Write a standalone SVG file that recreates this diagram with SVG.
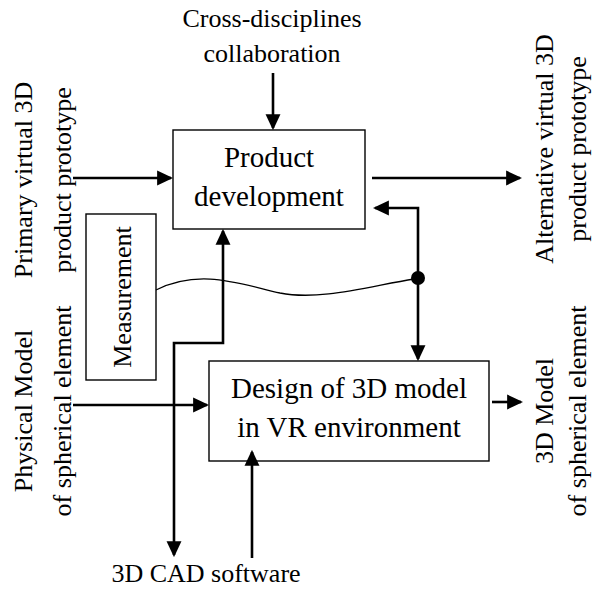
<svg xmlns="http://www.w3.org/2000/svg" width="592" height="589" viewBox="0 0 592 589">
<defs>
<marker id="ah" markerUnits="userSpaceOnUse" markerWidth="16" markerHeight="16" viewBox="0 0 15 14" refX="13" refY="7" orient="auto-start-reverse">
<path d="M0,0 L15,7 L0,14 z" fill="#000"/>
</marker>
</defs>
<rect width="592" height="589" fill="#fff"/>

<g id="product-development">
<rect x="173" y="130" width="192" height="99" fill="#fff" stroke="#000" stroke-width="1.4"/>
<text x="269" y="167" font-size="29" text-anchor="middle" font-family="Liberation Serif">Product</text>
<text x="269" y="206" font-size="29" text-anchor="middle" font-family="Liberation Serif">development</text>
</g>

<g id="design-3d-model">
<rect x="209" y="361" width="280" height="100" fill="#fff" stroke="#000" stroke-width="1.4"/>
<text x="349" y="398" font-size="29" text-anchor="middle" font-family="Liberation Serif">Design of 3D model</text>
<text x="349" y="437" font-size="29" text-anchor="middle" font-family="Liberation Serif">in VR environment</text>
</g>

<g id="measurement">
<rect x="86" y="214" width="70" height="166" fill="#fff" stroke="#000" stroke-width="1.4"/>
<text transform="translate(131,297) rotate(-90)" font-size="26" text-anchor="middle" font-family="Liberation Serif">Measurement</text>
</g>

<g id="label-cross">
<text x="272" y="27" font-size="26" text-anchor="middle" font-family="Liberation Serif">Cross-disciplines</text>
<text x="272" y="62" font-size="26" text-anchor="middle" font-family="Liberation Serif">collaboration</text>
</g>
<g id="label-primary">
<text transform="translate(32,180) rotate(-90)" font-size="26" text-anchor="middle" font-family="Liberation Serif">Primary virtual 3D</text>
<text transform="translate(71,180) rotate(-90)" font-size="26" text-anchor="middle" font-family="Liberation Serif">product prototype</text>
</g>
<g id="label-alternative">
<text transform="translate(553,149) rotate(-90)" font-size="26" text-anchor="middle" font-family="Liberation Serif">Alternative virtual 3D</text>
<text transform="translate(586,149) rotate(-90)" font-size="26" text-anchor="middle" font-family="Liberation Serif">product prototype</text>
</g>
<g id="label-physical">
<text transform="translate(32,411) rotate(-90)" font-size="26" text-anchor="middle" font-family="Liberation Serif">Physical Model</text>
<text transform="translate(71,411) rotate(-90)" font-size="26" text-anchor="middle" font-family="Liberation Serif">of spherical element</text>
</g>
<g id="label-3dmodel">
<text transform="translate(553,411) rotate(-90)" font-size="26" text-anchor="middle" font-family="Liberation Serif">3D Model</text>
<text transform="translate(586,411) rotate(-90)" font-size="26" text-anchor="middle" font-family="Liberation Serif">of spherical element</text>
</g>
<g id="label-cad">
<text x="206" y="582" font-size="26" text-anchor="middle" font-family="Liberation Serif">3D CAD software</text>
</g>

<g id="connectors" fill="none" stroke="#000" stroke-width="2.6">
<line x1="273" y1="73" x2="273" y2="128" marker-end="url(#ah)"/>
<line x1="73" y1="178" x2="171" y2="178" marker-end="url(#ah)"/>
<line x1="372" y1="178" x2="520" y2="178" marker-end="url(#ah)"/>
<path d="M418,278 V208 H375" marker-end="url(#ah)"/>
<line x1="418" y1="278" x2="418" y2="359" marker-end="url(#ah)"/>
<line x1="73" y1="405" x2="207" y2="405" marker-end="url(#ah)"/>
<line x1="492" y1="402" x2="521" y2="402" marker-end="url(#ah)"/>
<line x1="252" y1="558" x2="252" y2="452" marker-end="url(#ah)"/>
<path d="M223,231 V343 H174 V555" marker-start="url(#ah)" marker-end="url(#ah)"/>
<path d="M156,290 C200,268 240,284 280,293 C320,301 370,286 414,279" stroke-width="1.3"/>
<circle cx="418" cy="278" r="7" fill="#000" stroke="none"/>
</g>
</svg>
